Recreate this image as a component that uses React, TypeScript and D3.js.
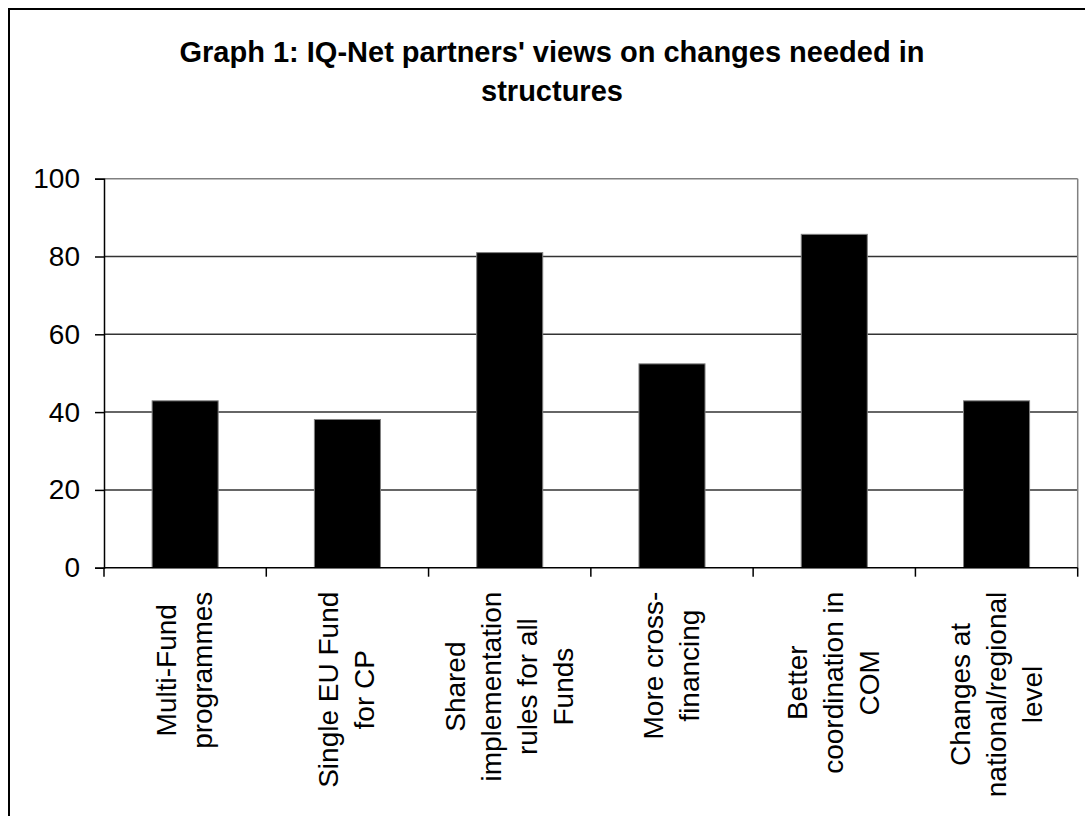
import * as d3 from "d3";
import { useEffect, useRef } from "react";

const categories = [
  ["Multi-Fund", "programmes"],
  ["Single EU Fund", "for CP"],
  ["Shared", "implementation", "rules for all", "Funds"],
  ["More cross-", "financing"],
  ["Better", "coordination in", "COM"],
  ["Changes at", "national/regional", "level"],
];
const values = [42.9, 38.1, 81.0, 52.4, 85.7, 42.9];
const yTicks = [0, 20, 40, 60, 80, 100];
const titleLines = [
  "Graph 1: IQ-Net partners' views on changes needed in",
  "structures",
];

export default function App() {
  const svgRef = useRef<SVGSVGElement | null>(null);

  useEffect(() => {
    document.body.style.margin = "0";
    if (!svgRef.current) return;

    const width = 1085;
    const height = 816;
    const left = 104;
    const right = 1077.7;
    const top = 178.7;
    const bottom = 567.7;
    const font = "'Liberation Sans', Arial, sans-serif";

    const svg = d3.select(svgRef.current);
    svg.selectAll("*").remove();

    svg.append("rect").attr("width", width).attr("height", height).attr("fill", "#fff");

    // chart area border (cut off on right and bottom)
    svg
      .append("rect")
      .attr("x", 9)
      .attr("y", 9)
      .attr("width", 1200)
      .attr("height", 900)
      .attr("fill", "none")
      .attr("stroke", "#000")
      .attr("stroke-width", 2);

    // title
    svg
      .append("g")
      .selectAll("text")
      .data(titleLines)
      .enter()
      .append("text")
      .attr("x", 552)
      .attr("y", (d, i) => 62 + i * 39)
      .attr("text-anchor", "middle")
      .attr("font-family", font)
      .attr("font-weight", "bold")
      .attr("font-size", 29)
      .text((d) => d);

    const x = d3
      .scaleBand<number>()
      .domain(d3.range(categories.length))
      .range([left, right])
      .paddingInner(0.593)
      .paddingOuter(0.2965);

    const y = d3.scaleLinear().domain([0, 100]).range([bottom, top]);

    // gridlines
    svg
      .append("g")
      .selectAll("line")
      .data(yTicks.filter((t) => t > 0))
      .enter()
      .append("line")
      .attr("x1", left)
      .attr("x2", right)
      .attr("y1", (d) => y(d))
      .attr("y2", (d) => y(d))
      .attr("stroke", (d) => (d === 100 ? "#808080" : "#333"))
      .attr("stroke-width", 1.5);

    // plot area right edge
    svg
      .append("line")
      .attr("x1", right)
      .attr("x2", right)
      .attr("y1", top)
      .attr("y2", bottom)
      .attr("stroke", "#808080")
      .attr("stroke-width", 1.5);

    // bars
    svg
      .append("g")
      .selectAll("rect")
      .data(values)
      .enter()
      .append("rect")
      .attr("x", (d, i) => x(i) ?? 0)
      .attr("width", x.bandwidth())
      .attr("y", (d) => y(d))
      .attr("height", (d) => bottom - y(d))
      .attr("fill", "#000")
      .attr("stroke", "#808080")
      .attr("stroke-width", 1);

    // y axis
    const yAxis = svg
      .append("g")
      .attr("transform", `translate(${left},0)`)
      .call(d3.axisLeft(y).tickValues(yTicks).tickSize(9).tickPadding(15));
    yAxis.select(".domain").attr("stroke", "#000").attr("stroke-width", 1.5);
    yAxis.selectAll(".tick line").attr("stroke", "#000").attr("stroke-width", 1.5);
    yAxis
      .selectAll(".tick text")
      .attr("font-family", font)
      .attr("font-size", 28)
      .attr("fill", "#000");

    // x axis baseline + ticks at category boundaries
    const step = x.step();
    const boundaries = d3.range(categories.length + 1).map((i) => left + i * step);
    svg
      .append("line")
      .attr("x1", left)
      .attr("x2", right)
      .attr("y1", bottom)
      .attr("y2", bottom)
      .attr("stroke", "#000")
      .attr("stroke-width", 1.5);
    svg
      .append("g")
      .selectAll("line")
      .data(boundaries)
      .enter()
      .append("line")
      .attr("x1", (d) => d)
      .attr("x2", (d) => d)
      .attr("y1", bottom)
      .attr("y2", bottom + 9)
      .attr("stroke", "#000")
      .attr("stroke-width", 1.5);

    // category labels, rotated, block aligned to the axis
    const lh = 36;
    categories.forEach((lines, i) => {
      const cx = (x(i) ?? 0) + x.bandwidth() / 2;
      const g = svg.append("g");
      const texts = g
        .selectAll("text")
        .data(lines)
        .enter()
        .append("text")
        .attr("font-family", font)
        .attr("font-size", 28)
        .attr("text-anchor", "middle")
        .text((d) => d);
      let maxLen = 0;
      texts.each(function () {
        maxLen = Math.max(maxLen, (this as SVGTextElement).getComputedTextLength());
      });
      const cy = bottom + 24 + maxLen / 2;
      const n = lines.length;
      texts.attr("transform", (d, j) => {
        const bx = cx + (j - (n - 1) / 2) * lh + 9;
        return `translate(${bx},${cy}) rotate(-90)`;
      });
    });
  }, []);

  return <svg ref={svgRef} width={1085} height={816} style={{ display: "block" }} />;
}
